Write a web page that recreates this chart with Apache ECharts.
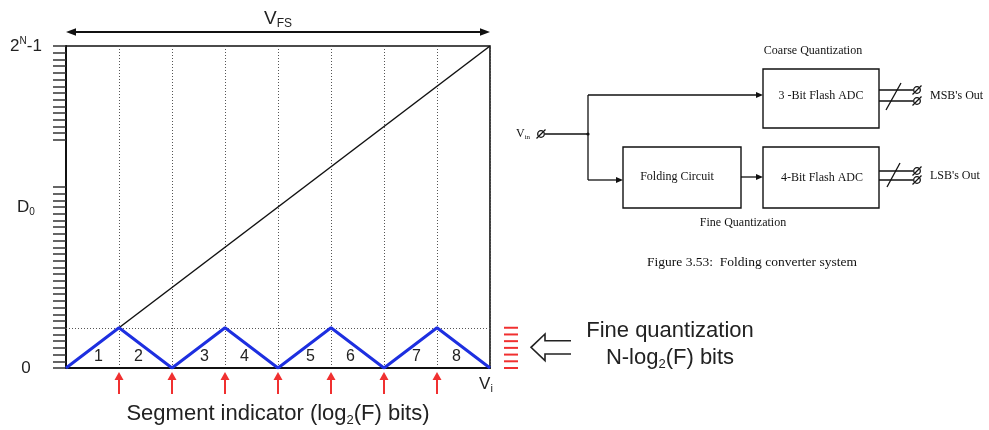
<!DOCTYPE html>
<html><head><meta charset="utf-8">
<script src="https://cdn.jsdelivr.net/npm/echarts@6/dist/echarts.min.js"></script>
<style>html,body{margin:0;padding:0;background:#fff}#c{width:989px;height:430px}</style>
</head><body><div id="c"></div>
<script>
// ---- data ----
const rampX = [0, 8];
const rampY = [0, 48];
const foldX = [0, 1, 2, 3, 4, 5, 6, 7, 8];
const foldY = [0, 6, 0, 6, 0, 6, 0, 6, 0];
const segmentBoundaries = [1, 2, 3, 4, 5, 6, 7];
const segmentLabels = ['1', '2', '3', '4', '5', '6', '7', '8'];
const fineLevels = [0, 1, 2, 3, 4, 5, 6];
const fineTop = 6;
const leftTickLevels = [0,1,2,3,4,5,6,7,8,9,10,11,12,13,14,15,16,17,18,19,20,21,22,23,24,25,26,27,34,35,36,37,38,39,40,41,42,43,44,45,46,47,48];
const yLabelValues = [0, 24, 48];
const yLabelTexts = ['{a|0}', '{a|D}{sub|0}', '{a|2}{sup|N}{a|-1}'];

const TXT = '#222';
const SANS = 'Liberation Sans, Arial, sans-serif';
const SERIF = 'Liberation Serif, Times New Roman, serif';
const RED = '#f03030';

const chart = echarts.init(document.getElementById('c'), null, {renderer: 'canvas'});

function line(x1, y1, x2, y2, w, c) {
  return {type: 'line', shape: {x1, y1, x2, y2}, style: {stroke: c || '#111', lineWidth: w || 1.3}, silent: true};
}
function head(x, y, dir, len, hw, c) { // dir: 'r','l'
  const s = dir === 'r' ? -1 : 1;
  return {type: 'polygon', shape: {points: [[x, y], [x + s * len, y - hw], [x + s * len, y + hw]]}, style: {fill: c || '#111'}, silent: true};
}
function stxt(x, y, text, size, extra) {
  return Object.assign({type: 'text', x, y, silent: true,
    style: Object.assign({text, fontFamily: SERIF, fontSize: size, fill: '#111', align: 'center', verticalAlign: 'middle'}, extra || {})});
}
function zero(x, y) {
  return {type: 'group', x, y, silent: true, children: [
    {type: 'circle', shape: {cx: 0, cy: 0, r: 3.3}, style: {fill: 'none', stroke: '#111', lineWidth: 1.3}},
    {type: 'line', shape: {x1: -4.5, y1: 4.5, x2: 4.5, y2: -4.5}, style: {stroke: '#111', lineWidth: 1.3}}
  ]};
}

const graphic = [
  // V_FS double arrow
  line(72, 32, 484, 32, 2, '#111'),
  head(66, 32, 'l', 10, 3.8),
  head(490, 32, 'r', 10, 3.8),
  {type: 'text', x: 278, y: 19, silent: true, style: {text: '{a|V}{sub|FS}', align: 'center', verticalAlign: 'middle',
    rich: {a: {fontSize: 19, fontFamily: SANS, fill: TXT, lineHeight: 22}, sub: {fontSize: 12, fontFamily: SANS, fill: TXT, lineHeight: 12, verticalAlign: 'bottom'}}}},
  // V_i
  {type: 'text', x: 486, y: 384, silent: true, style: {text: '{a|V}{sub|i}', align: 'center', verticalAlign: 'middle',
    rich: {a: {fontSize: 17, fontFamily: SANS, fill: TXT, lineHeight: 20}, sub: {fontSize: 11, fontFamily: SANS, fill: TXT, lineHeight: 11, verticalAlign: 'bottom'}}}},
  // segment indicator
  {type: 'text', x: 278, y: 414, silent: true, style: {text: '{a|Segment indicator (log}{sub|2}{a|(F) bits)}', align: 'center', verticalAlign: 'middle',
    rich: {a: {fontSize: 22, fontFamily: SANS, fill: TXT, lineHeight: 26}, sub: {fontSize: 13, fontFamily: SANS, fill: TXT, lineHeight: 13, verticalAlign: 'bottom'}}}},
  // hollow arrow + fine quantization text
  {type: 'polyline', silent: true, shape: {points: [[571, 340.7], [545, 340.7], [545, 334], [531, 347.3], [545, 360.7], [545, 354], [571, 354]]},
    style: {stroke: '#222', lineWidth: 1.6, fill: 'none'}},
  {type: 'text', x: 670, y: 331, silent: true, style: {text: 'Fine quantization', fontFamily: SANS, fontSize: 22, fill: TXT, align: 'center', verticalAlign: 'middle'}},
  {type: 'text', x: 670, y: 358, silent: true, style: {text: '{a|N-log}{sub|2}{a|(F) bits}', align: 'center', verticalAlign: 'middle',
    rich: {a: {fontSize: 22, fontFamily: SANS, fill: TXT, lineHeight: 26}, sub: {fontSize: 13, fontFamily: SANS, fill: TXT, lineHeight: 13, verticalAlign: 'bottom'}}}},

  // ---- block diagram ----
  stxt(813, 51, 'Coarse Quantization', 12),
  {type: 'rect', silent: true, shape: {x: 763, y: 69, width: 116, height: 59}, style: {fill: 'none', stroke: '#111', lineWidth: 1.4}},
  stxt(821, 96, '3 -Bit Flash ADC', 12),
  {type: 'rect', silent: true, shape: {x: 623, y: 147, width: 118, height: 61}, style: {fill: 'none', stroke: '#111', lineWidth: 1.4}},
  stxt(677, 177, 'Folding Circuit', 12),
  {type: 'rect', silent: true, shape: {x: 763, y: 147, width: 116, height: 61}, style: {fill: 'none', stroke: '#111', lineWidth: 1.4}},
  stxt(822, 178, '4-Bit Flash ADC', 12),
  stxt(743, 223, 'Fine Quantization', 12),
  stxt(752, 262, 'Figure 3.53:  Folding converter system', 13.5),
  // Vin
  {type: 'text', x: 516, y: 134, silent: true, style: {text: '{a|V}{sub|in}', align: 'left', verticalAlign: 'middle',
    rich: {a: {fontSize: 12, fontFamily: SERIF, fill: '#111', lineHeight: 14}, sub: {fontSize: 7, fontFamily: SERIF, fill: '#111', lineHeight: 7, verticalAlign: 'bottom'}}}},
  zero(541, 134),
  line(545, 134, 588, 134),
  {type: 'circle', silent: true, shape: {cx: 588, cy: 134, r: 1.6}, style: {fill: '#111'}},
  line(588, 95, 588, 180),
  line(588, 95, 757, 95), head(763, 95, 'r', 7, 3),
  line(588, 180, 617, 180), head(623, 180, 'r', 7, 3),
  line(741, 177, 757, 177), head(763, 177, 'r', 7, 3),
  // outputs
  line(879, 90, 913, 90), line(879, 101, 913, 101), line(886, 110, 901, 83),
  zero(917, 90), zero(917, 101),
  stxt(930, 96, "MSB's Out", 12, {align: 'left'}),
  line(879, 171, 913, 171), line(879, 180, 913, 180), line(887, 187, 900, 163),
  zero(917, 171), zero(917, 180),
  stxt(930, 176, "LSB's Out", 12, {align: 'left'})
];

const option = {
  animation: false,
  backgroundColor: '#fff',
  grid: {left: 66, right: 499, top: 46, bottom: 62, show: true, borderColor: '#111', borderWidth: 1.6, containLabel: false},
  xAxis: {
    type: 'value', min: 0, max: 8, interval: 1,
    axisLine: {show: true, onZero: false, lineStyle: {color: '#111', width: 2}},
    axisTick: {show: false}, axisLabel: {show: false},
    splitLine: {show: true, lineStyle: {type: [1, 2], color: '#555', width: 1}}
  },
  yAxis: {
    type: 'value', min: 0, max: 48, interval: 6,
    axisLine: {show: true, lineStyle: {color: '#111', width: 2}},
    axisTick: {show: true, customValues: leftTickLevels, length: 13, lineStyle: {color: '#333', width: 1.5}},
    axisLabel: {
      show: true, customValues: yLabelValues, margin: 40, align: 'center',
      formatter: v => yLabelTexts[yLabelValues.indexOf(v)],
      rich: {
        a: {fontSize: 17, fontFamily: SANS, color: TXT, lineHeight: 20},
        sub: {fontSize: 10, fontFamily: SANS, color: TXT, lineHeight: 10, verticalAlign: 'bottom'},
        sup: {fontSize: 10, fontFamily: SANS, color: TXT, lineHeight: 10, verticalAlign: 'top'}
      }
    },
    splitLine: {show: false}
  },
  series: [
    {
      type: 'line', data: rampX.map((x, i) => [x, rampY[i]]), symbol: 'none', silent: true,
      lineStyle: {color: '#111', width: 1.5},
      markLine: {silent: true, symbol: 'none', label: {show: false}, animation: false,
        lineStyle: {type: [1, 2], color: '#555', width: 1}, data: [{yAxis: fineTop}]}
    },
    {
      type: 'line', data: foldX.map((x, i) => [x, foldY[i]]), symbol: 'none', silent: true,
      lineStyle: {color: '#1d2fe0', width: 3}, z: 5
    },
    {
      type: 'custom', silent: true, clip: false, z: 6,
      data: segmentLabels.map((s, i) => [i + 0.5, 0, s]),
      renderItem: (params, api) => {
        const p = api.coord([api.value(0), 0]);
        const i = params.dataIndex;
        return {type: 'text', x: p[0] + (i % 2 === 0 ? 6 : -7), y: p[1] - 11,
          style: {text: segmentLabels[i], fontFamily: SANS, fontSize: 16, fill: TXT, align: 'center', verticalAlign: 'middle'}};
      }
    },
    {
      type: 'custom', silent: true, clip: false, z: 6,
      data: segmentBoundaries.map(b => [b, 0]),
      renderItem: (params, api) => {
        const p = api.coord([api.value(0), api.value(1)]);
        return {type: 'group', children: [
          {type: 'line', shape: {x1: p[0], y1: p[1] + 26, x2: p[0], y2: p[1] + 11}, style: {stroke: RED, lineWidth: 2}},
          {type: 'polygon', shape: {points: [[p[0], p[1] + 4], [p[0] - 4.5, p[1] + 12], [p[0] + 4.5, p[1] + 12]]}, style: {fill: RED}}
        ]};
      }
    },
    {
      type: 'custom', silent: true, clip: false, z: 6,
      data: fineLevels.map(l => [8, l]),
      renderItem: (params, api) => {
        const p = api.coord([api.value(0), api.value(1)]);
        return {type: 'line', shape: {x1: p[0] + 14, y1: p[1], x2: p[0] + 28, y2: p[1]}, style: {stroke: RED, lineWidth: 2}};
      }
    }
  ],
  graphic: graphic
};
chart.setOption(option);
</script>
</body></html>
